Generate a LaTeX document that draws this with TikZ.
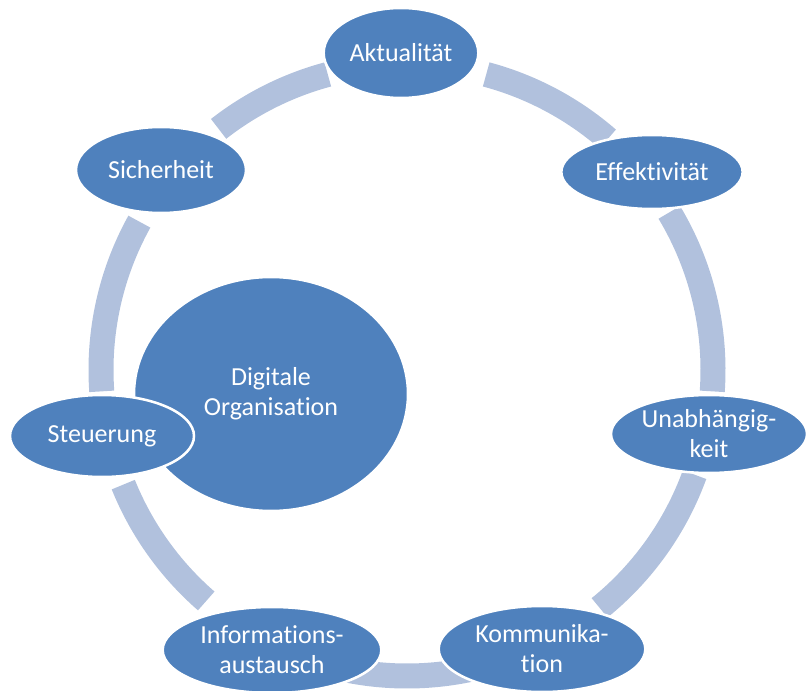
\documentclass[tikz,border=0pt]{standalone}
\usepackage{fontspec}
\setmainfont[Ligatures=NoCommon]{Carlito}
\usetikzlibrary{shapes.geometric}
\definecolor{nodeblue}{HTML}{4F81BD}
\definecolor{ringblue}{HTML}{B1C1DD}

\begin{document}
\begin{tikzpicture}[x=0.75pt, y=-0.75pt,
	every node/.style = {shape=ellipse, draw=white, line width=1.9pt,
		fill=nodeblue, text=white, align=center, inner sep=0pt,
		font=\fontsize{19.5}{22.5}\selectfont},
	band/.style = {draw=ringblue, line width=18.75pt}]
	\useasboundingbox (0,0) rectangle (806,691);
	\coordinate (ring) at (407,370);
	% ring pieces between the ellipses
	\foreach \a/\b in {-75/-49, -31/4, 20/51, 66/114, 131/158, -184/-151, -128/-105}
		\draw[band] (ring) ++(\a:306) arc[start angle=\a, end angle=\b, radius=306];
	\node (digital) [minimum width=205.5pt, minimum height=175.5pt] at (271,394) {Digitale\\Organisation};
	\node (aktual) [minimum width=116pt, minimum height=67.5pt] at (401,53) {Aktualität};
	\node (effekt) [minimum width=136pt, minimum height=55.5pt] at (652,172) {Effektivität};
	\node (unabh) [minimum width=147pt, minimum height=58.5pt] at (709,434) {Unabhängig-\\keit};
	\node (kommu) [minimum width=155pt, minimum height=64.5pt] at (542,649) {Kommunika-\\tion};
	\node (infoaus) [minimum width=164pt, minimum height=64.5pt] at (272,650) {Informations-\\austausch};
	\node (steuer) [minimum width=138pt, minimum height=61.5pt] at (102,436) {Steuerung};
	\node (sicher) [minimum width=127.5pt, minimum height=64.5pt] at (161,170) {Sicherheit};
\end{tikzpicture}
\end{document}
